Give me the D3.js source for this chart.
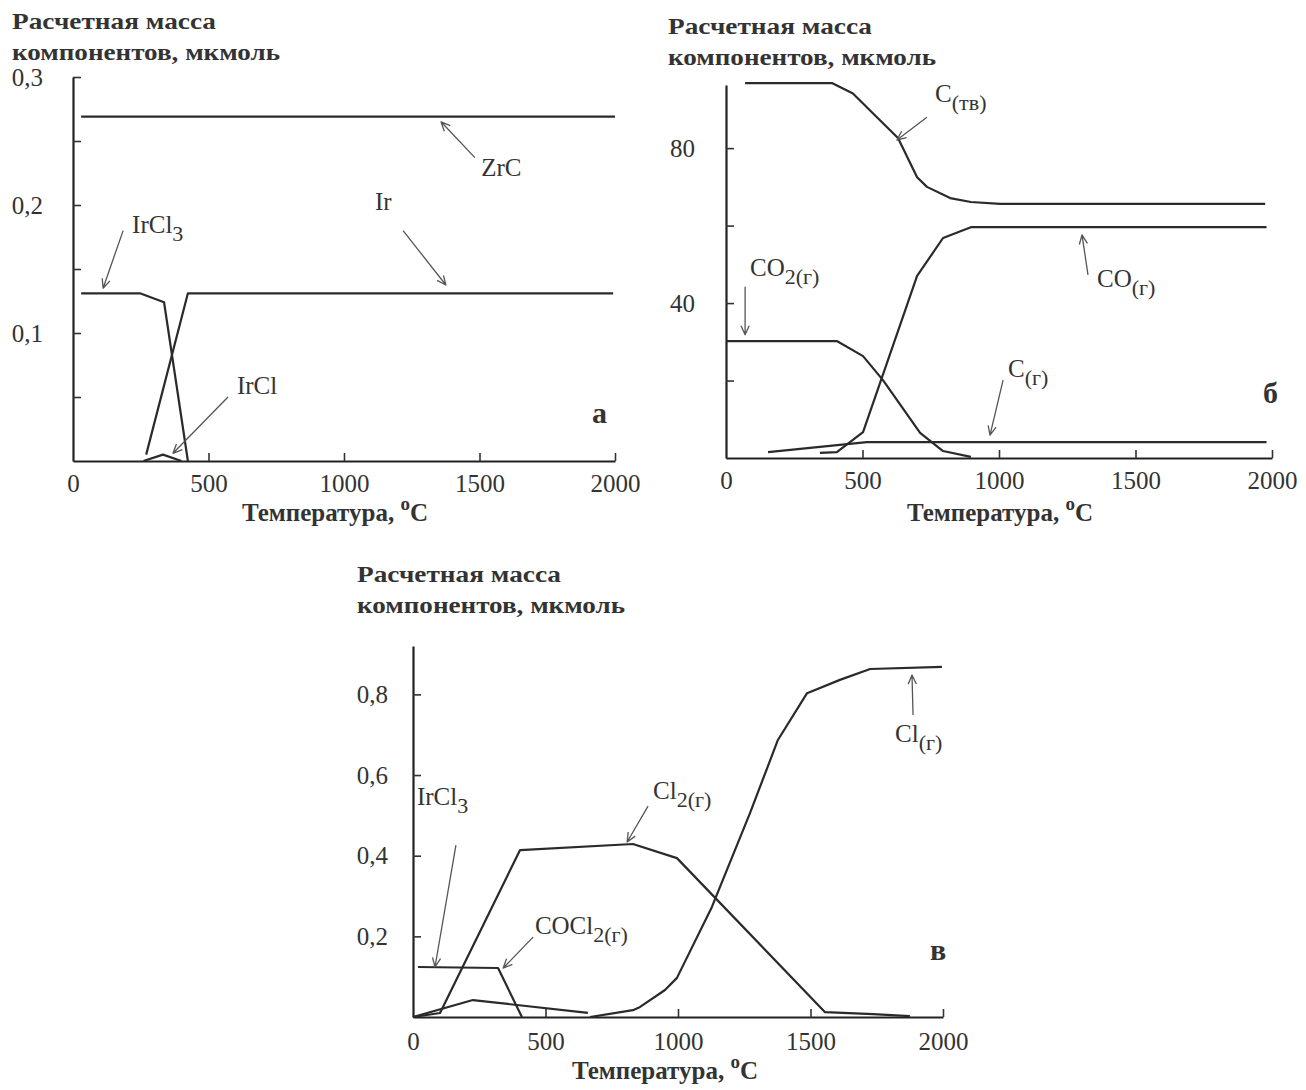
<!DOCTYPE html>
<html>
<head>
<meta charset="utf-8">
<script src="https://cdn.jsdelivr.net/npm/d3@7"></script>
<style>
  html, body { margin: 0; padding: 0; background: #fff; }
  svg { display: block; }
  text { font-family: 'Liberation Serif', 'Times New Roman', serif; fill: #333; }
</style>
</head>
<body>
<div id="chart"></div>
<script>
// temperature axis, shared by the three panels
const tempTicks = [0, 500, 1000, 1500, 2000];
const tempLabels = [0, 500, 1000, 1500, 2000];

// panel а: ZrC / Ir / IrCl3 / IrCl
const aYTicks = [0.05, 0.1, 0.15, 0.2, 0.25, 0.3];
const aYLabels = [0.1, 0.2, 0.3];
const aZrC = [[30, 0.269], [2000, 0.269]];
const aIrCl3 = [[30, 0.131], [247, 0.131], [336, 0.124], [424, 0]];
const aIr = [[270, 0.005], [424, 0.131], [1993, 0.131]];
const aIrCl = [[260, 0], [332, 0.005], [400, 0]];
const aNotes = [
  { text: 'IrCl', sub: '3', at: [218, 0.178], from: [185, 0.18], to: [111, 0.135] },
  { text: 'ZrC', at: [1506, 0.223], from: [1483, 0.237], to: [1358, 0.265] },
  { text: 'Ir', at: [1114, 0.196], from: [1218, 0.18], to: [1376, 0.1375] },
  { text: 'IrCl', at: [605, 0.052], from: [572, 0.05], to: [369, 0.006] }
];

// panel б: C(тв) / CO / CO2 / C(г)
const bYTicks = [20, 40, 60, 80];
const bYLabels = [40, 80];
const bCsolid = [[70, 96.8], [388, 96.8], [465, 94.1], [538, 89], [630, 82.6], [700, 72.5], [736, 70], [821, 67.1], [897, 66.1], [1004, 65.6], [1975, 65.6]];
const bCO = [[344, 1.3], [406, 1.5], [502, 6.7], [700, 47], [795, 56.8], [897, 59.6], [1980, 59.6]];
const bCO2 = [[3, 30.2], [406, 30.2], [502, 26.3], [575, 20.1], [711, 6.5], [795, 1.8], [897, 0.3]];
const bCgas = [[154, 1.5], [516, 4.1], [1980, 4.1]];
const bNotes = [
  { text: 'C', sub: '(тв)', at: [766, 91.9], from: [736, 88], to: [626, 82.1] },
  { text: 'CO', sub: '2(г)', at: [88, 47], from: [70, 44.2], to: [70, 31.8] },
  { text: 'CO', sub: '(г)', at: [1359, 44.2], from: [1326, 47.3], to: [1304, 57.6] },
  { text: 'C', sub: '(г)', at: [1033, 20.9], from: [1015, 20.1], to: [967, 5.9] }
];

// panel в: IrCl3 / Cl2 / COCl2 / Cl
const cYTicks = [0.2, 0.4, 0.6, 0.8];
const cYLabels = [0.2, 0.4, 0.6, 0.8];
const cIrCl3 = [[19, 0.124], [321, 0.1215], [411, 0]];
const cCl2 = [[0, 0], [102, 0.01], [404, 0.414], [830, 0.429], [996, 0.394], [1555, 0.012], [1736, 0.007], [1875, 0.002]];
const cCOCl2 = [[0, 0], [226, 0.042], [660, 0.01]];
const cCl = [[668, 0], [830, 0.017], [857, 0.025], [951, 0.067], [996, 0.097], [1128, 0.273], [1272, 0.506], [1377, 0.687], [1487, 0.803], [1611, 0.836], [1725, 0.863], [1996, 0.868]];
const cNotes = [
  { text: 'IrCl', sub: '3', at: [15, 0.526], from: [162, 0.426], to: [83, 0.124] },
  { text: 'COCl', sub: '2(г)', at: [460, 0.206], from: [453, 0.198], to: [340, 0.121] },
  { text: 'Cl', sub: '2(г)', at: [906, 0.541], from: [887, 0.523], to: [808, 0.434] },
  { text: 'Cl', sub: '(г)', at: [1819, 0.682], from: [1887, 0.749], to: [1883, 0.848] }
];

const titleLines = ['Расчетная масса', 'компонентов, мкмоль'];
const xTitle = 'Температура, ';

const panels = [
  { series: [aZrC, aIrCl3, aIr, aIrCl], notes: aNotes, tag: 'а', tagAt: [1915, 0.03],
    yTicks: aYTicks, yLabels: aYLabels, yDomain: [0, 0.3], yRange: [461, 77], xRange: [73, 615],
    yGap: 30, xGap: 31, title: [12, 29], xTitleAt: [242, 521], fmt: v => v.toFixed(1).replace('.', ',') },
  { series: [bCsolid, bCO, bCO2, bCgas], notes: bNotes, tag: 'б', tagAt: [1967, 14.2],
    yTicks: bYTicks, yLabels: bYLabels, yDomain: [0, 96.3], yRange: [458, 85], xRange: [726, 1272],
    yGap: 31, xGap: 31, title: [668, 34], xTitleAt: [907, 521], fmt: v => String(v) },
  { series: [cIrCl3, cCl2, cCOCl2, cCl], notes: cNotes, tag: 'в', tagAt: [1951, 0.141],
    yTicks: cYTicks, yLabels: cYLabels, yDomain: [0, 0.92], yRange: [1017, 646], xRange: [413, 943],
    yGap: 25, xGap: 33, title: [357, 582], xTitleAt: [572, 1079], fmt: v => v.toFixed(1).replace('.', ',') }
];

const svg = d3.select('#chart').append('svg').attr('width', 1306).attr('height', 1090);

function arrow(g, x1, y1, x2, y2) {
  const a = Math.atan2(y2 - y1, x2 - x1);
  const L = 10, s = 0.42;
  const p = d3.path();
  p.moveTo(x1, y1); p.lineTo(x2, y2);
  p.moveTo(x2 - L * Math.cos(a - s), y2 - L * Math.sin(a - s));
  p.lineTo(x2, y2);
  p.lineTo(x2 - L * Math.cos(a + s), y2 - L * Math.sin(a + s));
  g.append('path').attr('d', p.toString()).attr('fill', 'none')
    .attr('stroke', '#555').attr('stroke-width', 1.3).attr('stroke-linejoin', 'round');
}

panels.forEach((p) => {
  const x = d3.scaleLinear([0, 2000], p.xRange);
  const y = d3.scaleLinear(p.yDomain, p.yRange);
  const g = svg.append('g');

  // heading
  const t = g.append('text').attr('font-weight', 'bold').attr('font-size', 24).attr('fill', '#2a2a2a');
  t.append('tspan').attr('x', p.title[0]).attr('y', p.title[1])
    .attr('textLength', 204).attr('lengthAdjust', 'spacingAndGlyphs').text(titleLines[0]);
  t.append('tspan').attr('x', p.title[0]).attr('y', p.title[1] + 31)
    .attr('textLength', 268).attr('lengthAdjust', 'spacingAndGlyphs').text(titleLines[1]);

  // axes
  const yAxis = d3.axisLeft(y).tickValues(p.yTicks).tickSizeInner(-8).tickSizeOuter(0)
    .tickPadding(p.yGap).tickFormat(v => p.yLabels.includes(v) ? p.fmt(v) : '');
  const ya = g.append('g').attr('transform', `translate(${x(0)},0)`).call(yAxis);
  const xAxis = d3.axisBottom(x).tickValues(tempTicks).tickSizeInner(-8).tickSizeOuter(0)
    .tickFormat(v => tempLabels.includes(v) ? String(v) : '');
  const xa = g.append('g').attr('transform', `translate(0,${y(0)})`).call(xAxis);
  [ya, xa].forEach(a => {
    a.select('.domain').attr('stroke', '#222').attr('stroke-width', 2.2);
    a.selectAll('.tick line').attr('stroke', '#333').attr('stroke-width', 1.6);
    a.selectAll('text').attr('font-family', null).attr('font-size', 25).attr('fill', '#333');
  });
  ya.selectAll('.tick text').attr('dy', '0.32em');
  xa.selectAll('.tick text').attr('y', p.xGap).attr('dy', 0);
  xa.select('.tick line').attr('opacity', 0);

  // x title
  const xt = g.append('text').attr('x', p.xTitleAt[0]).attr('y', p.xTitleAt[1])
    .attr('font-weight', 'bold').attr('font-size', 25).attr('fill', '#2a2a2a');
  xt.append('tspan').text(xTitle);
  xt.append('tspan').attr('font-size', 19).attr('dy', -11).text('o');
  xt.append('tspan').attr('dy', 11).text('C');

  // curves
  const line = d3.line().x(d => x(d[0])).y(d => y(d[1]));
  g.append('g').selectAll('path').data(p.series).join('path')
    .attr('d', line).attr('fill', 'none').attr('stroke', '#2a2a2a')
    .attr('stroke-width', 2.2).attr('stroke-linejoin', 'round');

  // annotations
  p.notes.forEach(n => {
    arrow(g, x(n.from[0]), y(n.from[1]), x(n.to[0]), y(n.to[1]));
    const tx = g.append('text').attr('x', x(n.at[0])).attr('y', y(n.at[1])).attr('font-size', 25);
    tx.append('tspan').text(n.text);
    if (n.sub) tx.append('tspan').attr('font-size', 22).attr('dy', 8).text(n.sub);
  });

  g.append('text').attr('x', x(p.tagAt[0])).attr('y', y(p.tagAt[1]))
    .attr('font-weight', 'bold').attr('font-size', 30).attr('fill', '#222').text(p.tag);
});
</script>
</body>
</html>
